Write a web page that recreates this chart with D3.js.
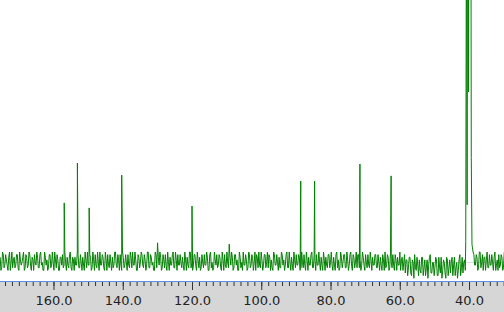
<!DOCTYPE html>
<html>
<head>
<meta charset="utf-8">
<script src="https://cdn.jsdelivr.net/npm/d3@7"></script>
<style>
  body { margin: 0; background: #fff; }
  svg { display: block; }
</style>
</head>
<body>
<script>
const W = 504, H = 312
const axisY = 281.5

// 13C spectrum, ppm axis runs right to left
const ppmStart = 175.4
const ppmStep = 0.45
// baseline noise, one value per step (intensity units)
const noise = [
  2, -2, 3, -1, 1, -3, 4, 0, -2, 2, -1, 3, -3, 1, 0, 4, -2, 2, -1, 3,
  -3, 1, 3, -1, 2, -2, 4, 0, -3, 2, 1, -2, 3, -1, 0, 4, -2, 1, -3, 2,
  3, -1, 0, 2, -2, 4, -3, 1, 2, -1, 3, -2, 0, 2, -3, 1, 4, -1, 2, -2,
  1, 3, -2, 0, 4, -1, 2, -3, 1, 3, -2, 0, 2, -1, 4, -2, 1, 3, -3, 2,
  -1, 0, 3, -2, 2, 4, -1, 1, -3, 2, 0, 3, -2, 1, -1, 4, -2, 2, 0, -3,
  3, 7.5, -1, 2, -2, 1, 3, -3, 0, 2, -1, 4, -2, 1, 3, -1, 0, 2, -3, 1,
  2, -2, 4, 0, -1, 3, -3, 1, 2, -2, 0, 3, -1, 2, -3, 4, 0, -2, 1, 3,
  -1, 2, -3, 1, 3, -2, 0, 7, -1, 2, -2, 3, 1, -3, 2, 0, 4, -1, 1, -2,
  3, -1, 2, 0, -3, 2, 4, -2, 1, -1, 3, 0, -2, 2, 1, -3, 3, -1, 0, 2,
  -2, 3, 1, -1, 4, -2, 0, 2, -3, 1, 3, -1, 2, -2, 0, 3, -3, 1, 2, -1,
  4, -2, 1, 3, -1, 0, 2, -3, 1, 2, -2, 3, 0, -1, 2, -3, 4, 1, -2, 2,
  0, 3, -2, 1, -1, 4, -3, 2, 0, -2, 3, 1, -1, 2, -3, 0, 3, -2, 1, 2,
  -1, 3, -2, 0, 2, -3, 1, 4, -1, 2, -2, 0, 3, -3, 1, 2, -1, -3, 2, 0,
  -4, 1, -2, 2, -5, 0, 3, -3, -1, 1, -4, 2, -2, -5, 1, -1, 3, -4, 0, -2,
  1, -5, -2, 2, -3, 0, -6, 1, -2, -4, 2, -1, -5, 0, -3, 3, -2, -4, 1, 0,
  0, 0, 0, 6, 3, -1, 2, -2, 4, 0, -3, 2, 1, -2, 3, -1, 0, 2, -3, 1,
  3, -1, 2, -2
]
// noise at the half steps in between
const noiseMid = [
  -3, 4, -2, 3, -1, 2, -3, 4, 1, -2, 3, -2, 4, -1, 2, -3, 3, -2, 4, -1,
  2, -3, 0, 4, -2, 3, -1, -3, 4, -1, -3, 3, -2, 4, -3, 1, 3, -3, 2, -1,
  -2, 4, -3, -1, 3, -2, 2, -3, -1, 4, -2, 3, -3, -1, 4, -2, -1, 3, -3, 4,
  -3, -1, 4, -3, -1, 3, -2, 4, -3, -1, 3, -3, -2, 4, -1, 3, -3, -1, 4, -2,
  3, -3, -1, 4, -2, -1, 4, -3, 3, -2, 4, -1, 3, -3, 4, -2, 3, -1, -3, 4,
  -2, 2, 4, -3, 3, -2, -1, 4, -3, -1, 3, -2, 4, -3, -1, 3, -2, -1, 4, -3,
  -1, 4, -2, -3, 3, -1, 4, -2, -3, 3, -2, -1, 4, -3, 3, -2, -3, 4, -1, -2,
  3, -2, 4, -3, -1, 4, -2, 2, 4, -3, 3, -1, -3, 4, -2, -3, -1, 3, -3, 4,
  -2, 3, -3, 4, 3, -2, -1, 4, -3, 3, -2, 4, 3, -3, -2, 4, -1, 3, -3, -2,
  4, -1, -3, 3, -2, 4, -3, -1, 4, -2, -1, 3, -3, 4, -2, -1, 4, -3, -1, 3,
  -2, 3, -3, -1, 4, -3, -1, 4, -3, -1, 3, -2, 4, -3, -1, 3, -2, -3, 4, -2,
  3, -2, 4, -3, 3, -1, 3, -2, 4, 3, -2, -3, 4, -1, 3, -2, -1, 4, -3, -1,
  3, -2, 3, -3, -1, 3, -3, -2, 3, -3, 4, -2, -1, 3, -3, -1, 4, 1, -3, 3,
  1, -5, 2, -4, 1, -6, -2, 2, -5, -3, 2, -5, 1, -2, -6, 2, -4, 0, -5, 2,
  -5, 2, -4, -6, 1, -4, 2, -5, 1, 0, -5, 2, -2, -6, 1, -5, 2, 0, -3, -1,
  0, 0, 0, 4, -1, 3, -3, 4, -2, 3, 2, -3, 4, -2, -1, 3, -3, 4, -1, -3,
  -2, 3, -3, 4
]
// sharp sample peaks
const peakPpm = [156.9, 153.1, 149.7, 140.3, 120.0, 88.6, 84.6, 71.5, 62.5]
const peakHeight = [22.7, 37.9, 20.8, 33.3, 21.5, 31.0, 31.0, 37.5, 33.0]
// DMSO-d6 solvent multiplet (goes off scale)
const solventPpm = [40.95, 40.75, 40.55, 40.35, 40.15, 39.95, 39.75, 39.55, 39.35, 39.15]
const solventHeight = [8, 140, 22, 260, 65, 300, 130, 250, 40, 7]
const majorTicks = [160, 140, 120, 100, 80, 60, 40]
const minorTicks = d3.range(174, 29, -2)

const x = d3.scaleLinear().domain([175.45, 29.9]).range([0, W])
const y = d3.scaleLinear().domain([0, 100]).range([262.5, 0])

// assemble spectrum points
const inSolvent = d => d.ppm > 39.1 && d.ppm < 41.0
let pts = noise.map((v, i) => ({ ppm: ppmStart - i * ppmStep, v }))
  .concat(noiseMid.map((v, i) => ({ ppm: ppmStart - (i + 0.5) * ppmStep, v })))
  .filter(d => !inSolvent(d))
peakPpm.forEach((p, i) => pts.push({ ppm: p, v: peakHeight[i] }))
solventPpm.forEach((p, i) => pts.push({ ppm: p, v: solventHeight[i] }))
pts.sort((a, b) => b.ppm - a.ppm)

const svg = d3.select('body').append('svg').attr('width', W).attr('height', H)

svg.append('rect').attr('x', 0).attr('y', axisY).attr('width', W).attr('height', H - axisY)
  .attr('fill', '#d6d6d6')

// zero line
svg.append('line').attr('x1', 0).attr('x2', W).attr('y1', y(0)).attr('y2', y(0))
  .attr('stroke', '#dadada').attr('stroke-width', 1)

const clip = svg.append('clipPath').attr('id', 'plot')
clip.append('rect').attr('x', 0).attr('y', 0).attr('width', W).attr('height', axisY)

const line = d3.line().x(d => x(d.ppm)).y(d => y(d.v))
svg.append('path').datum(pts)
  .attr('clip-path', 'url(#plot)')
  .attr('d', line)
  .attr('fill', 'none')
  .attr('stroke', '#008000')
  .attr('stroke-width', 1)

// axis
const minor = svg.append('g').attr('transform', `translate(0,${axisY})`)
  .call(d3.axisBottom(x).tickValues(minorTicks).tickSize(4.5).tickFormat(''))
const major = svg.append('g').attr('transform', `translate(0,${axisY})`)
  .call(d3.axisBottom(x).tickValues(majorTicks).tickSize(8.5).tickPadding(6).tickFormat(d3.format('.1f')))

svg.selectAll('.domain').remove()
svg.selectAll('.tick line').attr('stroke', '#333')
major.selectAll('.tick text')
  .attr('fill', '#222')
  .style('font-family', 'DejaVu Sans, sans-serif')
  .style('font-size', '13px')

svg.append('line').attr('x1', 0).attr('x2', W).attr('y1', axisY).attr('y2', axisY)
  .attr('stroke', '#5b8ee6').attr('stroke-width', 1.2)
</script>
</body>
</html>
